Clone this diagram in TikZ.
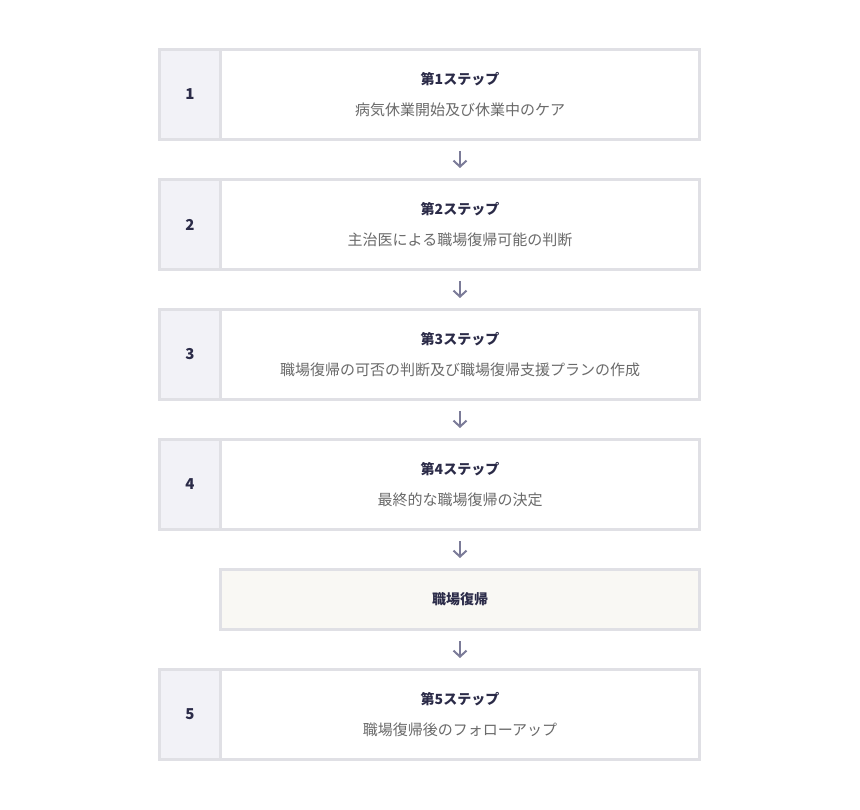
\documentclass[tikz,border=0pt]{standalone}
\usepackage{fontspec}
\setmainfont{Noto Sans CJK JP}
\usetikzlibrary{arrows.meta}

\definecolor{lineg}{HTML}{E0E0E5}
\definecolor{numfill}{HTML}{F2F2F7}
\definecolor{retfill}{HTML}{F9F8F4}
\definecolor{navy}{HTML}{2B2B48}
\definecolor{descg}{HTML}{6A6A6A}
\definecolor{arrowg}{HTML}{7B7B98}

\tikzset{
  numcell/.style={draw=lineg, line width=3pt, fill=numfill, inner sep=0pt,
    minimum width=61pt, minimum height=90pt, text=navy,
    font=\fontsize{15}{17}\selectfont\bfseries},
  stepbox/.style={draw=lineg, line width=3pt, fill=white, inner sep=0pt,
    minimum width=479pt, minimum height=90pt},
  retbox/.style={draw=lineg, line width=3pt, fill=retfill, inner sep=0pt,
    minimum width=479pt, minimum height=60pt, text=navy,
    font=\fontsize{14}{16}\selectfont\bfseries},
  title/.style={text=navy, font=\fontsize{14}{16}\selectfont\bfseries},
  desc/.style={text=descg, font=\fontsize{15}{17}\selectfont},
  flow/.style={draw=arrowg, line width=2pt, shorten <=10pt, shorten >=10pt,
    -{Straight Barb[length=6pt,width=13pt]}}
}

\begin{document}
\begin{tikzpicture}[x=1pt,y=-1pt]
\useasboundingbox (0,0) rectangle (860,810);

% step 1
\node[stepbox] (s1) at (460,94.5) {};
\node[numcell] (n1) at (190,94.5) {1};
\node[title] (t1) at (460,79) {第1ステップ};
\node[desc] (d1) at (460,110) {病気休業開始及び休業中のケア};

% step 2
\node[stepbox] (s2) at (460,224.5) {};
\node[numcell] (n2) at (190,224.5) {2};
\node[title] (t2) at (460,209) {第2ステップ};
\node[desc] (d2) at (460,240) {主治医による職場復帰可能の判断};

% step 3
\node[stepbox] (s3) at (460,354.5) {};
\node[numcell] (n3) at (190,354.5) {3};
\node[title] (t3) at (460,339) {第3ステップ};
\node[desc] (d3) at (460,370) {職場復帰の可否の判断及び職場復帰支援プランの作成};

% step 4
\node[stepbox] (s4) at (460,484.5) {};
\node[numcell] (n4) at (190,484.5) {4};
\node[title] (t4) at (460,469) {第4ステップ};
\node[desc] (d4) at (460,500) {最終的な職場復帰の決定};

% return to work
\node[retbox] (ret) at (460,599.5) {職場復帰};

% step 5
\node[stepbox] (s5) at (460,714.5) {};
\node[numcell] (n5) at (190,714.5) {5};
\node[title] (t5) at (460,699) {第5ステップ};
\node[desc] (d5) at (460,730) {職場復帰後のフォローアップ};

\draw[flow] (s1.south) -- (s2.north);
\draw[flow] (s2.south) -- (s3.north);
\draw[flow] (s3.south) -- (s4.north);
\draw[flow] (s4.south) -- (ret.north);
\draw[flow] (ret.south) -- (s5.north);
\end{tikzpicture}
\end{document}
